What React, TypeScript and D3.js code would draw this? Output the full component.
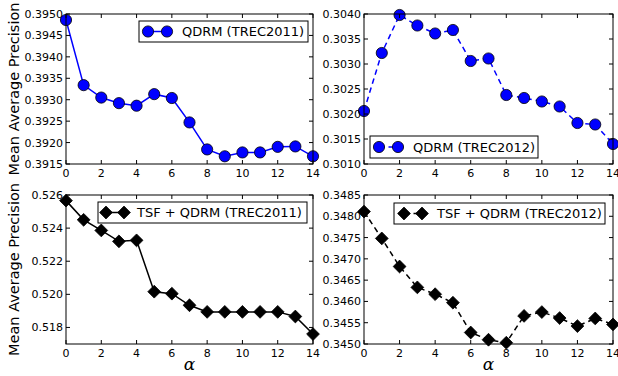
import React from "react";
import * as d3 from "d3";

const alphas = [0, 1, 2, 3, 4, 5, 6, 7, 8, 9, 10, 11, 12, 13, 14];
const qdrm2011 = [0.39486, 0.39334, 0.39305, 0.39292, 0.39286, 0.39313, 0.39304, 0.39247, 0.39184, 0.39168, 0.39177, 0.39177, 0.3919, 0.39191, 0.39168];
const qdrm2012 = [0.30206, 0.30322, 0.30398, 0.30377, 0.30361, 0.30368, 0.30306, 0.30311, 0.30238, 0.30232, 0.30225, 0.30215, 0.30182, 0.30179, 0.3014];
const tsf2011 = [0.52566, 0.5245, 0.52386, 0.5232, 0.52326, 0.52016, 0.52004, 0.51934, 0.51894, 0.51894, 0.51894, 0.51894, 0.51894, 0.51866, 0.5176];
const tsf2012 = [0.34811, 0.34748, 0.34682, 0.34633, 0.34617, 0.34597, 0.34527, 0.3451, 0.34503, 0.34566, 0.34575, 0.34561, 0.34542, 0.3456, 0.34546];

const xTicks = [0, 2, 4, 6, 8, 10, 12, 14];
const ticksTL = [0.3915, 0.392, 0.3925, 0.393, 0.3935, 0.394, 0.3945, 0.395];
const ticksTR = [0.301, 0.3015, 0.302, 0.3025, 0.303, 0.3035, 0.304];
const ticksBL = [0.518, 0.52, 0.522, 0.524, 0.526];
const ticksBR = [0.345, 0.3455, 0.346, 0.3465, 0.347, 0.3475, 0.348, 0.3485];

const FONT = "DejaVu Sans, sans-serif";

type PanelProps = {
  left: number; right: number; top: number; bottom: number;
  values: number[]; yDomain: [number, number]; yTicks: number[]; decimals: number;
  color: string; dashed: boolean; marker: "circle" | "diamond";
  label: string; legend: { x: number; y: number; w: number; h: number; m1: number; m2: number; tx: number };
};

function Marker({ x, y, kind, color }: { x: number; y: number; kind: string; color: string }) {
  if (kind === "circle") {
    return <circle cx={x} cy={y} r={5.6} fill={color} stroke="#000" strokeWidth={0.8} />;
  }
  const s = 6.4;
  return (
    <path
      d={`M${x},${y - s}L${x + s},${y}L${x},${y + s}L${x - s},${y}Z`}
      fill={color}
      stroke="#000"
      strokeWidth={0.8}
    />
  );
}

function Panel(p: PanelProps) {
  const x = d3.scaleLinear().domain([0, 14]).range([p.left, p.right]);
  const y = d3.scaleLinear().domain(p.yDomain).range([p.bottom, p.top]);
  const line = d3.line<number>().x((_, i) => x(alphas[i])).y((d) => y(d));
  const fmt = d3.format(`.${p.decimals}f`);
  const tl = 4;
  const dash = p.dashed ? "5.5,4" : undefined;
  const lg = p.legend;
  const m1 = lg.x + lg.m1, m2 = lg.x + lg.m2;
  const my = lg.y + lg.h / 2;
  return (
    <g>
      <path d={line(p.values) || ""} fill="none" stroke={p.color} strokeWidth={1.5} strokeDasharray={dash} />
      {p.values.map((v, i) => (
        <Marker key={i} x={x(alphas[i])} y={y(v)} kind={p.marker} color={p.color} />
      ))}
      <rect x={p.left} y={p.top} width={p.right - p.left} height={p.bottom - p.top} fill="none" stroke="#000" strokeWidth={1} />
      {xTicks.map((t) => (
        <g key={t}>
          <line x1={x(t)} x2={x(t)} y1={p.bottom} y2={p.bottom - tl} stroke="#000" />
          <line x1={x(t)} x2={x(t)} y1={p.top} y2={p.top + tl} stroke="#000" />
          <text x={x(t)} y={p.bottom + 13} textAnchor="middle" fontFamily={FONT} fontSize={11} fill="#000">{t}</text>
        </g>
      ))}
      {p.yTicks.map((t) => (
        <g key={t}>
          <line x1={p.left} x2={p.left + tl} y1={y(t)} y2={y(t)} stroke="#000" />
          <line x1={p.right} x2={p.right - tl} y1={y(t)} y2={y(t)} stroke="#000" />
          <text x={p.left - 3} y={y(t)} dy="0.36em" textAnchor="end" fontFamily={FONT} fontSize={11} fill="#000">{fmt(t)}</text>
        </g>
      ))}
      <rect x={lg.x} y={lg.y} width={lg.w} height={lg.h} fill="#fff" stroke="#000" strokeWidth={1} />
      <line x1={m1} x2={m2} y1={my} y2={my} stroke={p.color} strokeWidth={1.5} strokeDasharray={p.dashed ? "5.5,4" : undefined} />
      <Marker x={m1} y={my} kind={p.marker} color={p.color} />
      <Marker x={m2} y={my} kind={p.marker} color={p.color} />
      <text x={lg.x + lg.tx} y={my} dy="0.36em" fontFamily={FONT} fontSize={13} fill="#000">{p.label}</text>
    </g>
  );
}

export default function App() {
  const L1 = 66, R1 = 313, L2 = 364, R2 = 613;
  const T1 = 14, B1 = 164, T2 = 195, B2 = 344;
  return (
    <svg width={618} height={376} style={{ position: "absolute", left: 0, top: 0, background: "#fff" }}>
      <rect width={618} height={376} fill="#fff" />
      <Panel left={L1} right={R1} top={T1} bottom={B1} values={qdrm2011} yDomain={[0.3915, 0.395]} yTicks={ticksTL} decimals={4}
        color="#0000ff" dashed={false} marker="circle" label="QDRM (TREC2011)" legend={{ x: 139, y: 21, w: 169, h: 21, m1: 9, m2: 28, tx: 43 }} />
      <Panel left={L2} right={R2} top={T1} bottom={B1} values={qdrm2012} yDomain={[0.301, 0.304]} yTicks={ticksTR} decimals={4}
        color="#0000ff" dashed={true} marker="circle" label="QDRM (TREC2012)" legend={{ x: 370, y: 136, w: 168, h: 22, m1: 9, m2: 28, tx: 43 }} />
      <Panel left={L1} right={R1} top={T2} bottom={B2} values={tsf2011} yDomain={[0.517, 0.526]} yTicks={ticksBL} decimals={3}
        color="#000000" dashed={false} marker="diamond" label="TSF + QDRM (TREC2011)" legend={{ x: 98, y: 202, w: 209, h: 21, m1: 8, m2: 26, tx: 39 }} />
      <Panel left={L2} right={R2} top={T2} bottom={B2} values={tsf2012} yDomain={[0.345, 0.3485]} yTicks={ticksBR} decimals={4}
        color="#000000" dashed={true} marker="diamond" label="TSF + QDRM (TREC2012)" legend={{ x: 394, y: 203, w: 211, h: 21, m1: 10, m2: 28, tx: 43 }} />
      <text transform={`translate(19,${(T1 + B1) / 2}) rotate(-90)`} textAnchor="middle" fontFamily={FONT} fontSize={14.5} fill="#000">Mean Average Precision</text>
      <text transform={`translate(19,${(T2 + B2) / 2}) rotate(-90)`} textAnchor="middle" fontFamily={FONT} fontSize={14.5} fill="#000">Mean Average Precision</text>
      <text x={(L1 + R1) / 2} y={370} textAnchor="middle" fontFamily="DejaVu Serif, serif" fontStyle="italic" fontSize={17} fill="#000">α</text>
      <text x={(L2 + R2) / 2} y={370} textAnchor="middle" fontFamily="DejaVu Serif, serif" fontStyle="italic" fontSize={17} fill="#000">α</text>
    </svg>
  );
}
